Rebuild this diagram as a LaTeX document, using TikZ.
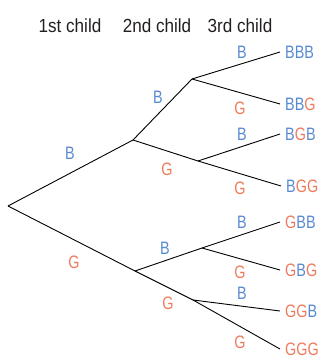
\documentclass[tikz,border=0pt]{standalone}
\usepackage{fontspec}
\setmainfont{Liberation Sans}
\newfontfamily\labfont{Liberation Sans}[FakeStretch=0.8]
\newfontfamily\hdfont{Liberation Sans}[FakeStretch=0.9]
\definecolor{bcol}{RGB}{88,138,208}
\definecolor{gcol}{RGB}{238,122,92}
\definecolor{hcol}{RGB}{35,31,32}
\begin{document}
\begin{tikzpicture}[x=1pt,y=-1pt,
  br/.style={draw=black,line width=0.9pt},
  lab/.style={font=\labfont\fontsize{18}{18}\selectfont,inner sep=0pt},
  hd/.style={font=\hdfont\fontsize{19}{19}\selectfont,text=hcol,inner sep=0pt},
  leaf/.style={font=\labfont\fontsize{18}{18}\selectfont,anchor=west,inner xsep=5pt,inner ysep=0pt}]
\useasboundingbox (0,0) rectangle (320,363);
% headers
\node[hd] (h1) at (70,26) {1st child};
\node[hd] (h2) at (157,26) {2nd child};
\node[hd] (h3) at (240,26) {3rd child};
% branch points
\coordinate (r) at (8,206);
\coordinate (b) at (133,140);
\coordinate (g) at (135,271);
\coordinate (bb) at (192,79);
\coordinate (bg) at (198,161);
\coordinate (gb) at (202,248);
\coordinate (gg) at (193,300);
% leaves
\node[leaf] (bbb) at (280,52) {\color{bcol}BBB};
\node[leaf] (bbg) at (280,104) {\color{bcol}BB\color{gcol}G};
\node[leaf] (bgb) at (280,134) {\color{bcol}B\color{gcol}G\color{bcol}B};
\node[leaf] (bgg) at (281,186) {\color{bcol}B\color{gcol}GG};
\node[leaf] (gbb) at (280,222) {\color{gcol}G\color{bcol}BB};
\node[leaf] (gbg) at (280,270) {\color{gcol}G\color{bcol}B\color{gcol}G};
\node[leaf] (ggb) at (280,311) {\color{gcol}GG\color{bcol}B};
\node[leaf] (ggg) at (280,349) {\color{gcol}GGG};
% branches
\draw[br] (r) -- (b);
\draw[br] (r) -- (g);
\draw[br] (b) -- (bb);
\draw[br] (b) -- (bg);
\draw[br] (g) -- (gb);
\draw[br] (g) -- (gg);
\draw[br] (bb) -- (bbb.west);
\draw[br] (bb) -- (bbg.west);
\draw[br] (bg) -- (bgb.west);
\draw[br] (bg) -- (bgg.west);
\draw[br] (gb) -- (gbb.west);
\draw[br] (gb) -- (gbg.west);
\draw[br] (gg) -- (ggb.west);
\draw[br] (gg) -- (ggg.west);
% branch labels
\node[lab,text=bcol] (lb) at (70,153) {B};
\node[lab,text=gcol] (lg) at (74,262) {G};
\node[lab,text=bcol] (lbb) at (158,97) {B};
\node[lab,text=gcol] (lbg) at (167,169) {G};
\node[lab,text=bcol] (lgb) at (165,248) {B};
\node[lab,text=gcol] (lgg) at (168,303) {G};
\node[lab,text=bcol] (lbbb) at (242,52) {B};
\node[lab,text=gcol] (lbbg) at (240,108) {G};
\node[lab,text=bcol] (lbgb) at (242,134) {B};
\node[lab,text=gcol] (lbgg) at (240,188) {G};
\node[lab,text=bcol] (lgbb) at (242,222) {B};
\node[lab,text=gcol] (lgbg) at (240,272) {G};
\node[lab,text=bcol] (lggb) at (242,293) {B};
\node[lab,text=gcol] (lggg) at (240,342) {G};
\end{tikzpicture}
\end{document}
